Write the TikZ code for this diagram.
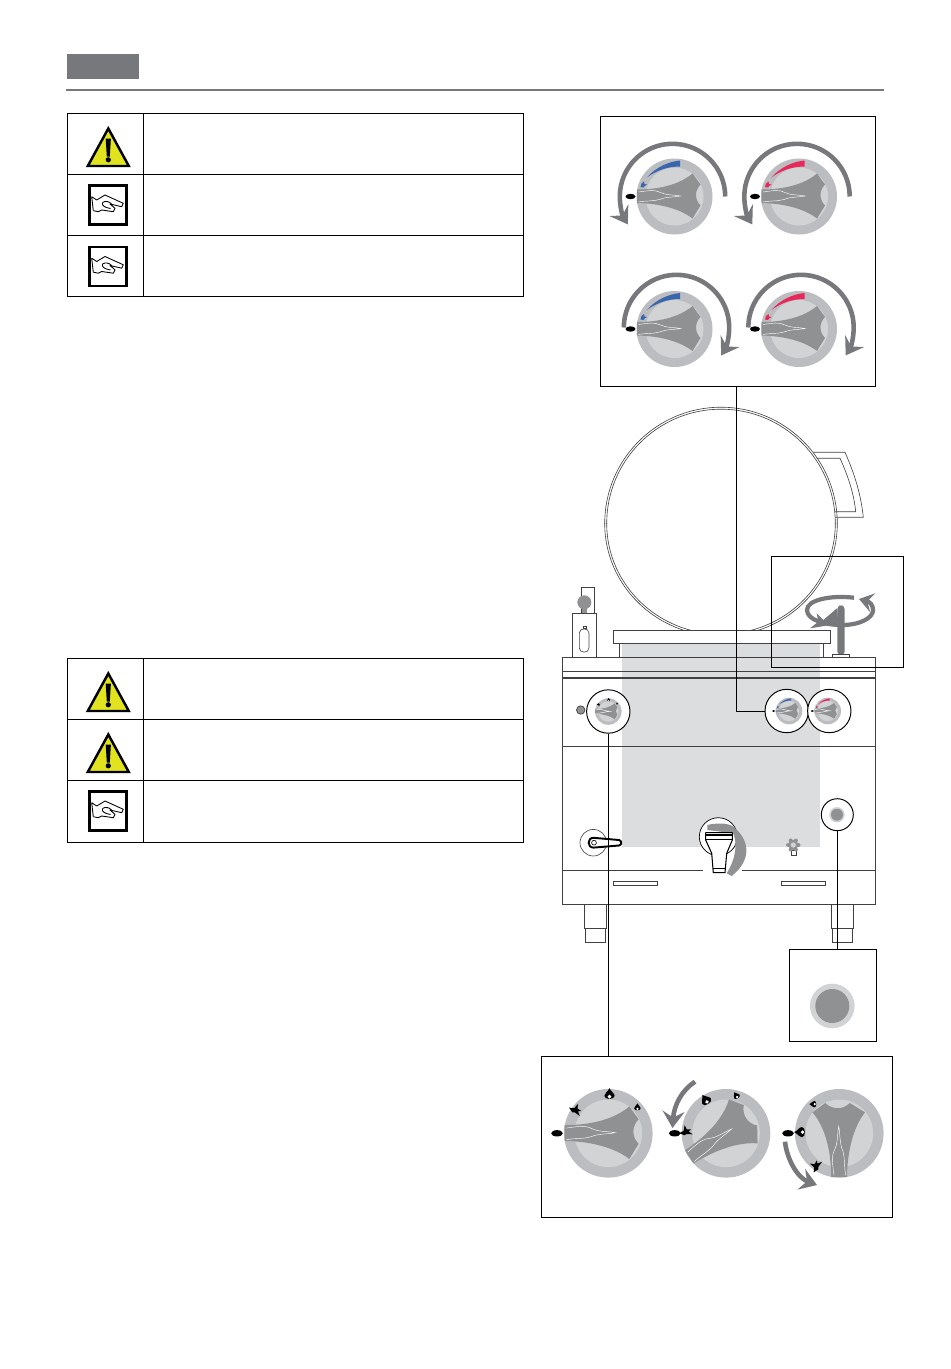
\documentclass[tikz,border=0pt]{standalone}
\usepackage{tikz}
\usetikzlibrary{arrows.meta}
\definecolor{headgray}{HTML}{77787B}
\definecolor{gripgray}{HTML}{8F9193}
\definecolor{ringgray}{HTML}{BCBDC0}
\definecolor{discgray}{HTML}{D1D3D4}
\definecolor{panelgray}{HTML}{DCDDDE}
\definecolor{linegray}{HTML}{414042}
\definecolor{warnyellow}{HTML}{E2E31F}
\definecolor{markblue}{HTML}{3A66AD}
\definecolor{markred}{HTML}{E8285A}
\tikzset{
	framebox/.style={draw=black,line width=0.5pt,inner sep=0pt},
	lens/.style={circle,draw=black,line width=0.55pt,fill=white,inner sep=0pt},
	tableline/.style={draw=black,line width=0.5pt},
	bodyline/.style={draw=linegray,line width=0.55pt},
	thinline/.style={draw=linegray,line width=0.35pt},
	connector/.style={draw=black,line width=0.5pt},
	turnline/.style={draw=headgray,line width=2.6pt,-{Stealth[length=9.5pt,width=12.5pt,inset=3.5pt]}}
}
\def\warnsign(#1,#2){\begin{scope}[shift={(#1,#2)}]
	\draw[fill=warnyellow,line width=1.4pt,line join=miter] (0,0) -- (20.5,37.5) -- (-20.5,37.5) -- cycle;
	\fill[black] (-2.6,10) -- (2.6,10) -- (1.5,28) -- (-1.5,28) -- cycle;
	\fill[black] (0,31.3) circle (2.6);
\end{scope}}
\def\handsign(#1,#2){\begin{scope}[shift={(#1,#2)}]
	\draw[fill=white,line width=1.5pt] (0,0) rectangle (37,39);
	\draw[line width=0.5pt,line join=round] (2.2,11.2) -- (7.2,14.5) -- (15.5,9.5) -- (33.8,17.8) -- (32.2,21.2) -- (20.5,18.5) -- (25.5,22.8) -- (23.8,26.2) -- (12.2,24.5) -- (8.8,26.2) -- (3.8,25.2);
	\draw[line width=0.5pt] (2.2,11.2) -- (3.8,25.2);
	\draw[line width=0.5pt] (13,17) .. controls (16,15) and (20,16) .. (22,18.5);
	\draw[line width=0.5pt] (13,17) .. controls (12,20) and (15,22) .. (21,23);
\end{scope}}
\def\flamemark(#1,#2)#3{\begin{scope}[shift={(#1,#2)},scale=#3]
	\fill[black] (0,-1.3) .. controls (0.2,-0.7) and (1,-0.3) .. (1,0.2) .. controls (1,1) and (-1,1) .. (-1,0.2) .. controls (-1,-0.3) and (-0.4,-0.5) .. cycle;
	\fill[white] (0,0.35) circle (0.38);
\end{scope}}
\def\sparkmark(#1,#2)#3{\begin{scope}[shift={(#1,#2)},scale=#3]
	\fill[black] (-1.4,-0.5) -- (-0.3,-0.4) -- (0.5,-1.3) -- (0.4,-0.3) -- (1.2,0.2) -- (0.5,0.3) -- (0.9,1.3) -- (-0.2,0.5) -- (-0.7,0.5) -- cycle;
\end{scope}}
\def\dialgrip{
	\fill[gripgray] (-37.5,-7) .. controls (-15,-7) and (5,-12) .. (18,-23) -- (26,-12) .. controls (20,-6) and (20,3) .. (26,9) -- (18,22) .. controls (5,12) and (-15,7) .. (-37.5,6.5) -- cycle;
	\draw[white,line width=0.25pt] (-36,-4.5) .. controls (-25,-6) and (-20,-7) .. (-14,-4) .. controls (-8,-1) and (-2,-2) .. (6,-0.5) .. controls (-2,1) and (-8,0) .. (-15,3) .. controls (-22,5) and (-28,4) .. (-36,5.5);
}
\def\dialface(#1,#2)#3{\begin{scope}[shift={(#1,#2)},scale=#3]
	\fill[ringgray] (0,0) circle (38);
	\fill[discgray] (0,0) circle (29);
	\dialgrip
\end{scope}}
\def\dialpill(#1,#2)#3{\begin{scope}[shift={(#1,#2)},scale=#3]
	\fill[black] (-44,0) ellipse [x radius=5,y radius=2.7];
\end{scope}}
\def\dialmark(#1,#2)#3#4{\begin{scope}[shift={(#1,#2)},scale=#3]
	\fill[#4] (-27.7,-19) .. controls (-18,-30) and (-5,-35) .. (5.7,-36) -- (5.7,-30) .. controls (-7,-30) and (-18,-26) .. cycle;
	\fill[#4] (-34,-9.5) -- (-33,-13) -- (-30.5,-15) -- (-30,-12.5) -- (-27.5,-12) -- (-30,-10.5) -- (-31,-9) -- cycle;
\end{scope}}
\def\gasdial(#1,#2)#3#4{\begin{scope}[shift={(#1,#2)},scale=#3]
	\fill[ringgray] (0,0) circle (38);
	\fill[discgray] (0,0) circle (29);
	\begin{scope}[rotate=#4]
		\dialgrip
		\sparkmark(-28,-20){4}
		\flamemark(1,-33){4.4}
		\flamemark(25,-22){2.8}
	\end{scope}
\end{scope}}
\def\turnarrow(#1,#2)#3{\begin{scope}[shift={(#1,#2)},xscale=#3]
	\draw[turnline] (50.7,0) arc (0:-212:52.7);
\end{scope}}

\begin{document}
\begin{tikzpicture}[x=0.02cm,y=-0.02cm]
	\useasboundingbox (0,0) rectangle (950,1369);
	%%%%% HEADER %%%%%
	\fill[headgray] (66.5,54) rectangle (139,79);
	\draw[draw=headgray,line width=1.1pt] (66,90) -- (884,90);

	%%%%% TABLES %%%%%
	\draw[tableline] (67,113) rectangle (523,296);
	\draw[tableline] (67,174) -- (523,174);
	\draw[tableline] (67,235.5) -- (523,235.5);
	\draw[tableline] (143.5,113) -- (143.5,296);
	\warnsign(108.3,128.5)
	\handsign(89.5,185.5)
	\handsign(89.5,247)

	\draw[tableline] (67,658.5) rectangle (523,842);
	\draw[tableline] (67,719.5) -- (523,719.5);
	\draw[tableline] (67,780.5) -- (523,780.5);
	\draw[tableline] (143.5,658.5) -- (143.5,842);
	\warnsign(108.3,673.5)
	\warnsign(108.3,734.5)
	\handsign(89.5,791.5)

	%%%%% KETTLE %%%%%
	\fill[panelgray] (621.7,643.5) rectangle (820,846.7);
	\foreach \r/\q in {116.3/112.7,114.3/110.7}{
		\draw[thinline] (721-\r,523.5) arc (180:360:\r);
		\begin{scope}
			\clip (590,523.5) rectangle (850,630.3);
			\draw[thinline] (721,523.5) ellipse [x radius=\r,y radius=\q];
		\end{scope}
	}
	\draw[thinline] (813.3,452.3) -- (845,452.3) .. controls (855,475) and (861,495) .. (863.3,517.3) -- (835,517.3);
	\draw[thinline] (816.7,458.3) -- (840,458.3) .. controls (849,478) and (854,495) .. (855.7,511.7) -- (835,511.7);

	%%%%% BODY %%%%%
	\draw[bodyline] (613.3,630.3) rectangle (830,643.7);
	\draw[bodyline] (619.3,643.7) -- (619.3,657.3);
	\draw[bodyline] (823.3,643.7) -- (823.3,657.3);
	\draw[bodyline] (562.3,657.3) rectangle (875.7,904.3);
	\draw[bodyline] (562.3,671.3) -- (875.7,671.3);
	\draw[draw=linegray,line width=1.2pt] (562.3,677.7) -- (875.7,677.7);
	\draw[bodyline] (562.3,746.7) -- (875.7,746.7);
	\draw[bodyline] (562.3,870) -- (703.3,870);
	\draw[bodyline] (741.7,870) -- (875.7,870);
	\draw[bodyline] (613.3,881.7) rectangle (657.3,885.3);
	\draw[bodyline] (781.7,881.7) rectangle (825.7,885.3);
	\draw[bodyline] (584.3,904.3) rectangle (606.7,928.3);
	\draw[bodyline] (585.3,928.3) rectangle (605.7,942.3);
	\draw[bodyline] (831.3,904.3) rectangle (853.7,928.3);
	\draw[bodyline] (832.3,928.3) rectangle (852.7,942.3);

	%%%%% LEFT VALVE %%%%%
	\draw[bodyline] (581.3,587.3) rectangle (594.3,613.3);
	\draw[bodyline] (572.3,613.3) rectangle (596.7,657.3);
	\fill[gripgray] (584.3,602.3) circle (7);
	\fill[gripgray] (582,608) rectangle (587,613.3);
	\draw[thinline] (579.3,633) .. controls (579.3,627.5) and (589,627.5) .. (589,633) -- (589,648) .. controls (589,653.5) and (579.3,653.5) .. (579.3,648) -- cycle;
	\draw[thinline] (582.8,626.3) rectangle (585.8,628.5);

	%%%%% PANEL %%%%%
	\draw[fill=gripgray,draw=linegray,line width=0.4pt] (580.7,710) circle (4.2);
	\node[lens,minimum size=0.868cm] (lensgas) at (608.3,711.5) {};
	\node[lens,minimum size=0.868cm] (lensblue) at (786.7,711) {};
	\node[lens,minimum size=0.868cm] (lensred) at (829.3,711) {};
	\gasdial(608.3,711.5){0.35}{0}
	\dialface(789,711){0.35}
	\dialmark(789,711){0.35}{markblue}
	\dialpill(789,711){0.35}
	\dialface(827.7,711){0.35}
	\dialmark(827.7,711){0.35}{markred}
	\dialpill(827.7,711){0.35}

	%%%%% LEVER %%%%%
	\node[lens,draw=linegray,line width=0.35pt,minimum size=0.532cm] (lenslever) at (593.3,842.7) {};
	\draw[fill=white,line width=1.1pt,line join=round] (593.5,837.8) -- (619,840) .. controls (622,840.5) and (622,845) .. (619,845.5) -- (593.5,847.6) .. controls (587,847.6) and (587,837.8) .. cycle;
	\draw[line width=0.35pt] (594,842.7) circle (2.4);

	%%%%% TAP %%%%%
	\node[lens,line width=0.4pt,minimum size=0.76cm] (lenstap) at (718.3,836.7) {};
	\fill[gripgray] (707.3,825) .. controls (720,822) and (730,824) .. (733.3,826.7) .. controls (750,840) and (752,860) .. (731.7,876) -- (726.7,873.3) .. controls (735,860) and (738,845) .. (733.3,833.3) -- (707.3,830) -- cycle;
	\draw[fill=white,line width=0.6pt,line join=round] (705.7,832.7) -- (732.3,832.7) -- (732.3,840) -- (726.7,853.3) -- (725,872.7) -- (713.3,872.7) -- (711.7,853.3) -- (705.7,840) -- cycle;
	\draw[line width=0.6pt] (705.7,835) -- (732.3,835);
	\draw[line width=0.6pt] (705.7,839.3) -- (732.3,839.3);
	\draw[line width=0.6pt] (713,868.3) -- (725.3,868.3);

	%%%%% GEAR %%%%%
	\draw[bodyline] (791,850) rectangle (796,855);
	\foreach \a in {0,60,...,300}{
		\fill[gripgray] (793.3,845)++(\a:5.2) circle (2);
	}
	\fill[gripgray] (793.3,845) circle (5);
	\fill[discgray] (793.3,845) circle (2.6);

	%%%%% PUSH BUTTON %%%%%
	\node[lens,minimum size=0.64cm] (lenspush) at (837.3,814.7) {};
	\fill[discgray] (837,814.7) circle (7.7);
	\fill[gripgray] (837,814.7) circle (6);

	%%%%% TOP BOX %%%%%
	\node[framebox,minimum width=5.5cm,minimum height=5.4cm] (dialbox) at (737.5,251) {};
	\coordinate (dialdrop) at (736,386);
	\draw[connector] (lensblue.west) -| (dialdrop);
	\dialface(674.5,196.5){1}
	\dialmark(674.5,196.5){1}{markblue}
	\dialpill(674.5,196.5){1}
	\turnarrow(674.5,196.5){1}
	\dialface(799,196.5){1}
	\dialmark(799,196.5){1}{markred}
	\dialpill(799,196.5){1}
	\turnarrow(799,196.5){1}
	\dialface(674.5,329){1}
	\dialmark(674.5,329){1}{markblue}
	\dialpill(674.5,329){1}
	\turnarrow(674.5,327.5){-1}
	\dialface(799,329){1}
	\dialmark(799,329){1}{markred}
	\dialpill(799,329){1}
	\turnarrow(799,327.5){-1}

	%%%%% TURN BOX %%%%%
	\node[framebox,minimum width=2.632cm,minimum height=2.212cm] (turnbox) at (837.5,612) {};
	\fill[headgray,rounded corners=1.5pt] (837.3,654.3) -- (837.3,607) -- (841,604.5) -- (844.7,607) -- (844.7,654.3) -- cycle;
	\fill[headgray] (837,608.3) -- (838.3,623.3) -- (820,626.7) -- (810,628.3) -- (818.3,621.7) -- (816.7,613.3) -- (823.3,620) -- cycle;
	\draw[draw=headgray,line width=2.4pt,-{Stealth[length=8pt,width=11pt,inset=3pt]}] (854,597.7) .. controls (830,595) and (807,600) .. (807,610) .. controls (807,620) and (825,625) .. (842,625) .. controls (860,625) and (873,618) .. (873,610) .. controls (873,605) and (870,602) .. (859,599);
	\draw[bodyline,fill=white] (832.7,654.3) rectangle (849.3,657.3);

	%%%%% PUSH BOX %%%%%
	\node[framebox,minimum width=1.748cm,minimum height=1.848cm] (pushbox) at (833,995.5) {};
	\draw[connector] (lenspush.south) -- (pushbox.north -| lenspush);
	\fill[discgray] (832.3,1006) circle (22.3);
	\fill[gripgray] (832.3,1006) circle (17);

	%%%%% GAS BOX %%%%%
	\node[framebox,minimum width=7.01cm,minimum height=3.22cm] (gasbox) at (716.75,1136.5) {};
	\draw[connector] (lensgas.south) -- (gasbox.north -| lensgas);
	\gasdial(608.3,1133.3){1.166}{0}
	\dialpill(608.3,1133.3){1.166}
	\gasdial(726,1133.3){1.166}{33}
	\dialpill(726,1133.3){1.166}
	\gasdial(839.3,1133.3){1.166}{90}
	\dialpill(839.3,1133.3){1.166}
	\draw[turnline] (695,1081.7) .. controls (682,1090) and (674,1105) .. (672.5,1128);
	\draw[turnline] (785,1141.7) .. controls (787,1160) and (798,1178) .. (817,1185);
	%%%%% END %%%%%
\end{tikzpicture}
\end{document}
